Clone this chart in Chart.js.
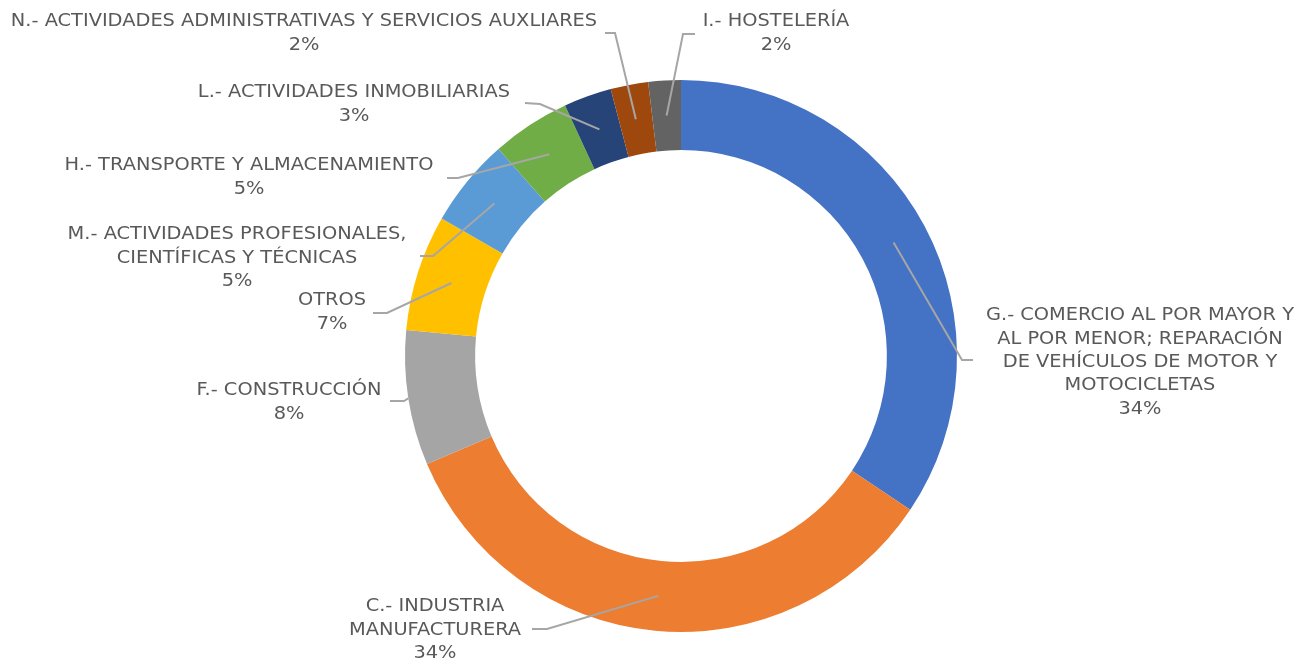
<!DOCTYPE html>
<html>
<head>
<meta charset="utf-8">
<script src="https://cdn.jsdelivr.net/npm/chart.js@4/dist/chart.umd.min.js"></script>
<style>
  html, body { margin: 0; padding: 0; background: #fff; }
  #wrap { width: 1296px; height: 661px; }
</style>
</head>
<body>
<div id="wrap"><canvas id="sectorChart" width="1296" height="661"></canvas></div>
<script>
// sectors, clockwise from 12 o'clock
const categories = [
  'G.- COMERCIO AL POR MAYOR Y AL POR MENOR; REPARACIÓN DE VEHÍCULOS DE MOTOR Y MOTOCICLETAS',
  'C.- INDUSTRIA MANUFACTURERA',
  'F.- CONSTRUCCIÓN',
  'OTROS',
  'M.- ACTIVIDADES PROFESIONALES, CIENTÍFICAS Y TÉCNICAS',
  'H.- TRANSPORTE Y ALMACENAMIENTO',
  'L.- ACTIVIDADES INMOBILIARIAS',
  'N.- ACTIVIDADES ADMINISTRATIVAS Y SERVICIOS AUXLIARES',
  'I.- HOSTELERÍA'
];
const shares = [34.4, 34.2, 7.9, 6.8, 5.2, 4.6, 2.8, 2.2, 1.9];
const colors = ['#4472C4', '#ED7D31', '#A5A5A5', '#FFC000', '#5B9BD5', '#70AD47', '#264478', '#9E480E', '#636363'];

// how each category name is wrapped in its label
const labelLines = [
  ['G.- COMERCIO AL POR MAYOR Y', 'AL POR MENOR; REPARACIÓN', 'DE VEHÍCULOS DE MOTOR Y', 'MOTOCICLETAS'],
  ['C.- INDUSTRIA', 'MANUFACTURERA'],
  ['F.- CONSTRUCCIÓN'],
  ['OTROS'],
  ['M.- ACTIVIDADES PROFESIONALES,', 'CIENTÍFICAS Y TÉCNICAS'],
  ['H.- TRANSPORTE Y ALMACENAMIENTO'],
  ['L.- ACTIVIDADES INMOBILIARIAS'],
  ['N.- ACTIVIDADES ADMINISTRATIVAS Y SERVICIOS AUXLIARES'],
  ['I.- HOSTELERÍA']
];

// label placement: text centre x, first line y, leader elbow + end, and where on the ring the leader starts
const labelPos = [
  { cx: 1140, y: 316, elbow: [962, 360], end: [973, 360], ring: 0.5 },
  { cx: 435, y: 607, elbow: [547, 629], end: [532, 629], ring: 0.5 },
  { cx: 289, y: 391, elbow: [404, 401], end: [390, 401], ring: 1 },
  { cx: 332, y: 301, elbow: [387, 313], end: [373, 313], ring: 0.5 },
  { cx: 237, y: 235, elbow: [433, 256], end: [420, 256], ring: 0.5 },
  { cx: 249, y: 166, elbow: [458, 178], end: [447, 178], ring: 0.5 },
  { cx: 354, y: 93, elbow: [540, 104], end: [525, 103], ring: 0.5 },
  { cx: 304, y: 22, elbow: [615, 33], end: [605, 33], ring: 0.5 },
  { cx: 776, y: 22, elbow: [683, 34], end: [695, 34], ring: 0.5 }
];

const lineHeight = 23.3;
const labelFont = '17px "DejaVu Sans"';
const stretch = 1.14; // the original face is wider than DejaVu

const outsideLabels = {
  id: 'outsideLabels',
  afterDatasetsDraw(chart) {
    const ctx = chart.ctx;
    const meta = chart.getDatasetMeta(0);
    const total = shares.reduce((a, b) => a + b, 0);
    ctx.save();
    meta.data.forEach(function(arc, i) {
      const p = labelPos[i];
      const props = arc.getProps(['x', 'y', 'startAngle', 'endAngle', 'innerRadius', 'outerRadius'], true);
      const mid = (props.startAngle + props.endAngle) / 2;
      const r = props.innerRadius + p.ring * (props.outerRadius - props.innerRadius);
      const sx = props.x + Math.cos(mid) * r;
      const sy = props.y + Math.sin(mid) * r;

      // leader line
      ctx.strokeStyle = '#A6A6A6';
      ctx.lineWidth = 2;
      ctx.beginPath();
      ctx.moveTo(sx, sy);
      ctx.lineTo(p.elbow[0], p.elbow[1]);
      ctx.lineTo(p.end[0], p.end[1]);
      ctx.stroke();

      // text
      ctx.fillStyle = '#595959';
      ctx.font = labelFont;
      ctx.textAlign = 'center';
      ctx.textBaseline = 'middle';
      const lines = labelLines[i].concat([Math.round(shares[i] / total * 100) + '%']);
      lines.forEach(function(txt, k) {
        ctx.save();
        ctx.translate(p.cx, p.y + k * lineHeight);
        ctx.scale(stretch, 1);
        ctx.fillText(txt, 0, 0);
        ctx.restore();
      });
    });
    ctx.restore();
  }
};

const ctx = document.getElementById('sectorChart').getContext('2d');
const sectorChart = new Chart(ctx, {
  type: 'doughnut',
  data: {
    labels: categories,
    datasets: [{
      data: shares,
      backgroundColor: colors,
      borderWidth: 0,
      hoverOffset: 0
    }]
  },
  options: {
    responsive: false,
    animation: false,
    cutout: '74.6%',
    layout: {
      padding: { left: 405, right: 339, top: 80, bottom: 29 }
    },
    plugins: {
      legend: { display: false },
      tooltip: { enabled: false }
    }
  },
  plugins: [outsideLabels]
});
</script>
</body>
</html>
